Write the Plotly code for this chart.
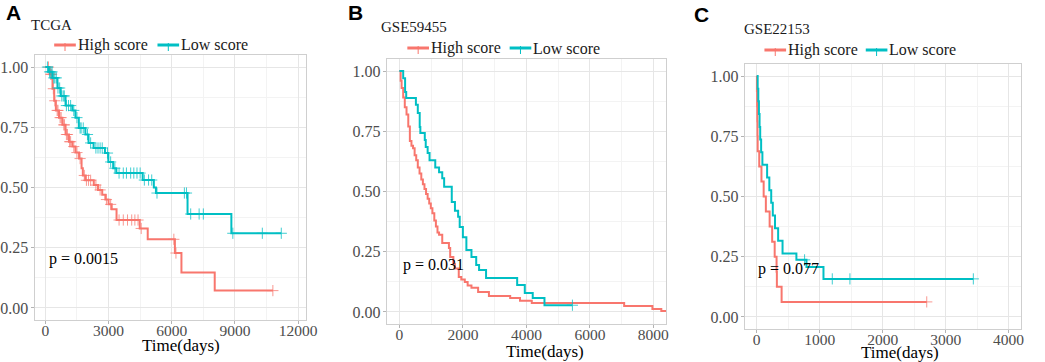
import plotly.graph_objects as go

# ---------------- data ----------------
RED = "#F8766D"
TEAL = "#00BFC4"

# Panel A: TCGA
A_high_t = [0, 200, 340, 420, 500, 650, 810, 960, 1120, 1280, 1430, 1600, 1720, 1780, 1900, 2300, 2500,
            2700, 2850, 3000, 3150, 3380, 4480, 4860, 6150, 6460, 8040]
A_high_s = [1, .97, .91, .86, .82, .79, .76, .72, .69, .67, .645, .62, .58, .55, .53, .51, .49,
            .47, .45, .43, .41, .365, .33, .285, .228, .147, .072]
A_high_end = 10800
A_high_cens = [150, 250, 300, 380, 450, 560, 600, 700, 750, 880, 900, 1000, 1050, 1150, 1200, 1350, 1500,
               1650, 1850, 1950, 2050, 2150, 2400, 2600, 2900, 3100, 3500, 3700, 3900, 4100, 4250, 4400,
               4550, 6100, 6200, 10800]

A_low_t = [0, 150, 340, 575, 730, 960, 1280, 1430, 1590, 1900, 2050, 2290, 2830, 2990, 3220, 3370, 4620,
           5150, 5250, 6750, 8830]
A_low_s = [1, .98, .955, .913, .88, .84, .82, .79, .747, .72, .685, .664, .643, .606, .58, .56, .531,
           .50, .477, .39, .31]
A_low_end = 11200
A_low_cens = [100, 200, 260, 320, 400, 450, 520, 600, 680, 780, 850, 900, 1000, 1100, 1200, 1350, 1500,
              1650, 1700, 1800, 2000, 2150, 2400, 2500, 2600, 2700, 2950, 3100, 3300, 3500, 3700, 3850,
              4050, 4200, 4350, 4500, 4700, 4900, 5050, 5300, 6600, 6700, 6900, 7300, 7500, 8900, 10300,
              11200]

# Panel B: GSE59455
B_high_t = [0, 40, 70, 120, 170, 225, 280, 330, 380, 430, 480, 530, 580, 635, 690, 740, 790, 840, 890,
            940, 990, 1040, 1100, 1150, 1200, 1250, 1350, 1560, 1600, 1700, 1750, 1870, 1950, 2060, 2150,
            2270, 2480, 2820, 3490, 3800, 4170, 7080, 7970, 8250]
B_high_s = [1, .96, .93, .89, .85, .82, .77, .71, .69, .68, .65, .63, .60, .575, .55, .53, .51, .49, .47,
            .45, .43, .41, .38, .355, .33, .32, .286, .265, .228, .20, .18, .145, .135, .124, .11,
            .10, .083, .066, .058, .046, .037, .025, .012, .004]
B_high_end = 8400
B_high_cens = []

B_low_t = [0, 120, 180, 215, 520, 580, 640, 660, 800, 830, 890, 950, 1130, 1250, 1350, 1410, 1650, 1750,
           1850, 1900, 2000, 2110, 2270, 2420, 2510, 2730, 3710, 3950, 4200, 4570]
B_low_s = [1, .97, .913, .888, .86, .826, .768, .743, .714, .685, .66, .63, .60, .58, .555, .52, .456, .42,
           .395, .353, .31, .257, .228, .195, .174, .141, .112, .079, .058, .028]
B_low_end = 5450
B_low_cens = [5450]

# Panel C: GSE22153
C_high_t = [0, 3, 6, 9, 12, 15, 40, 75, 110, 145, 205, 245, 285, 315, 320, 395]
C_high_s = [1, .9375, .875, .8125, .75, .6875, .625, .5625, .5, .4375, .375, .3125, .25, .1875, .125, .0625]
C_high_end = 2700
C_high_cens = [2700]

C_low_t = [0, 15, 25, 35, 45, 55, 70, 90, 165, 200, 230, 255, 290, 340, 410, 630, 790, 1060]
C_low_s = [1, .947, .895, .842, .789, .737, .684, .632, .579, .526, .474, .421, .368, .316, .263, .237,
           .207, .158]
C_low_end = 3440
C_low_cens = [760, 1200, 1480, 3440]

titles = ["TCGA", "GSE59455", "GSE22153"]
letters = ["A", "B", "C"]
pvals = ["p = 0.0015", "p = 0.031", "p = 0.077"]
group_names = ["High score", "Low score"]
x_ticks = [[0, 3000, 6000, 9000, 12000], [0, 2000, 4000, 6000, 8000], [0, 1000, 2000, 3000, 4000]]
y_ticks = [0, 0.25, 0.5, 0.75, 1.0]
y_ticklabels = ["0.00", "0.25", "0.50", "0.75", "1.00"]

panels = [
    dict(high=(A_high_t, A_high_s, A_high_end, A_high_cens), low=(A_low_t, A_low_s, A_low_end, A_low_cens)),
    dict(high=(B_high_t, B_high_s, B_high_end, B_high_cens), low=(B_low_t, B_low_s, B_low_end, B_low_cens)),
    dict(high=(C_high_t, C_high_s, C_high_end, C_high_cens), low=(C_low_t, C_low_s, C_low_end, C_low_cens)),
]

# ---------------- layout constants (pixels) ----------------
W, H = 1045, 362
SERIF = "Liberation Serif, Times New Roman, serif"
SANS = "Liberation Sans, Arial, sans-serif"
# plot areas: left, right, top, bottom
areas = [(30, 306, 55, 320), (388, 672, 59, 324), (752, 1033, 64, 329)]
x_ranges = [[-514, 12374], [-400, 8400], [-190, 4200]]
minor_dt = [1500, 1000, 500]
p_pos = [(280, 0.205), (180, 0.195), (55, 0.2)]
title_pos = [(27, 25), (383, 27), (752, 29)]
letter_pos = [(1, 12), (349, 12), (700, 14)]
legend_pos = [(50, 45, 155), (409, 48, 513), (772, 50, 875)]
xlabel_pos = [(179, 345), (549, 351), (910, 352)]


def px(x):
    return x / W


def py(y):
    return 1 - y / H


def surv_at(ts, ss, t):
    v = ss[0]
    for ti, si in zip(ts, ss):
        if ti <= t:
            v = si
    return v


fig = go.Figure()
annotations = []
shapes = []
layout = {}

for i, pnl in enumerate(panels):
    sfx = "" if i == 0 else str(i + 1)
    xa, ya = "x" + sfx, "y" + sfx
    for key, col in (("high", RED), ("low", TEAL)):
        ts, ss, end, cens = pnl[key]
        fig.add_trace(go.Scatter(x=list(ts) + [end], y=list(ss) + [ss[-1]], mode="lines",
                                 line=dict(color=col, width=2, shape="hv"), xaxis=xa, yaxis=ya,
                                 showlegend=False, hoverinfo="skip"))
        if cens:
            fig.add_trace(go.Scatter(x=cens, y=[surv_at(ts, ss, c) for c in cens], mode="markers",
                                     marker=dict(symbol="cross-thin", size=8, line=dict(color=col, width=1),
                                                 color=col, opacity=0.75),
                                     xaxis=xa, yaxis=ya, showlegend=False, hoverinfo="skip"))
    l, r, t, b = areas[i]
    layout["xaxis" + sfx] = dict(domain=[px(l), px(r)], range=x_ranges[i], anchor=ya,
                                 tickvals=x_ticks[i], ticktext=[str(v) for v in x_ticks[i]],
                                 showgrid=True, gridcolor="#e6e6e6", gridwidth=1,
                                 minor=dict(dtick=minor_dt[i], tick0=0, showgrid=True, gridcolor="#f3f3f3",
                                            gridwidth=1),
                                 showline=True, mirror=True, linecolor="#cfcfcf", linewidth=1,
                                 ticks="outside", ticklen=3, tickcolor="#b3b3b3", ticklabelstandoff=-7,
                                 tickfont=dict(family=SERIF, size=15.5, color="#4d4d4d"), zeroline=False)
    layout["yaxis" + sfx] = dict(domain=[py(b), py(t)], range=[-0.05, 1.05], anchor=xa,
                                 tickvals=y_ticks, ticktext=y_ticklabels,
                                 showgrid=True, gridcolor="#e6e6e6", gridwidth=1,
                                 minor=dict(dtick=0.125, tick0=0, showgrid=True, gridcolor="#f3f3f3",
                                            gridwidth=1),
                                 showline=True, mirror=True, linecolor="#cfcfcf", linewidth=1,
                                 ticks="outside", ticklen=3, tickcolor="#b3b3b3", ticklabelstandoff=-1,
                                 tickfont=dict(family=SERIF, size=16, color="#4d4d4d"), zeroline=False)
    # p-value
    annotations.append(dict(x=p_pos[i][0], y=p_pos[i][1], xref=xa, yref=ya, text=pvals[i], showarrow=False,
                            xanchor="left", yanchor="middle", xshift=-4,
                            font=dict(family=SERIF, size=16, color="black")))
    # title
    annotations.append(dict(x=px(title_pos[i][0]), y=py(title_pos[i][1]), xref="paper", yref="paper",
                            text=titles[i], showarrow=False, xanchor="left", yanchor="middle", xshift=-3,
                            font=dict(family=SERIF, size=15, color="#1a1a1a")))
    # panel letter
    annotations.append(dict(x=px(letter_pos[i][0]), y=py(letter_pos[i][1]), xref="paper", yref="paper",
                            text="<b>" + letters[i] + "</b>", showarrow=False, xanchor="left",
                            yanchor="middle", xshift=-2, font=dict(family=SANS, size=21, color="black")))
    # x-axis title
    annotations.append(dict(x=px(xlabel_pos[i][0]), y=py(xlabel_pos[i][1]), xref="paper", yref="paper",
                            text="Time(days)", showarrow=False, xanchor="center", yanchor="middle",
                            borderpad=0, font=dict(family=SERIF, size=17, color="black")))
    # legend
    lx, ly, lx2 = legend_pos[i]
    for kx, col, name in ((lx, RED, group_names[0]), (lx2, TEAL, group_names[1])):
        shapes.append(dict(type="line", xref="paper", yref="paper", x0=px(kx), x1=px(kx + 22),
                           y0=py(ly), y1=py(ly), line=dict(color=col, width=3)))
        shapes.append(dict(type="line", xref="paper", yref="paper", x0=px(kx + 11), x1=px(kx + 11),
                           y0=py(ly - 2), y1=py(ly + 6), line=dict(color=col, width=1)))
        annotations.append(dict(x=px(kx + 25), y=py(ly), xref="paper", yref="paper", text=name,
                                showarrow=False, xanchor="left", yanchor="middle", xshift=-3,
                                font=dict(family=SERIF, size=16, color="#1a1a1a")))

fig.update_layout(width=W, height=H, margin=dict(l=0, r=0, t=0, b=0), paper_bgcolor="white",
                  plot_bgcolor="white", showlegend=False, annotations=annotations, shapes=shapes, **layout)

fig.write_html("out.html", config={"displayModeBar": False},
               post_script="document.body.style.margin='0';document.body.style.overflow='hidden';")
